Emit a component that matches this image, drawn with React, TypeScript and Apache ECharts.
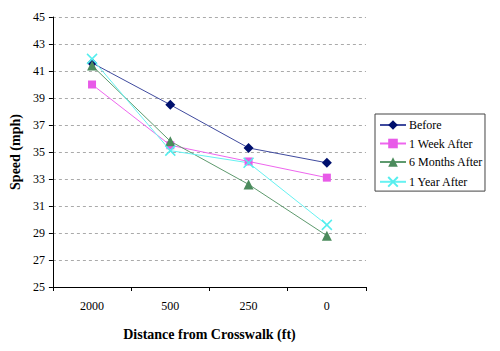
import React, { useEffect, useRef } from "react";
import * as echarts from "echarts";

const categories = ["2000", "500", "250", "0"];
const before = [41.6, 38.5, 35.3, 34.2];
const oneWeek = [40.0, 35.5, 34.3, 33.1];
const sixMonths = [41.4, 35.8, 32.6, 28.8];
const oneYear = [41.9, 35.1, 34.2, 29.6];

const FONT = "'Liberation Serif', 'Times New Roman', serif";

export default function App() {
  const ref = useRef<HTMLDivElement>(null);
  useEffect(() => {
    const chart = echarts.init(ref.current!, null, { renderer: "svg" });
    const mk = (name: string, data: number[], line: string, mark: string, symbol: string, size: number) => ({
      name,
      type: "line",
      data,
      symbol,
      symbolSize: size,
      lineStyle: { color: line, width: 1 },
      itemStyle: { color: mark, borderColor: mark, borderWidth: 0 },
    });
    chart.setOption({
      animation: false,
      grid: { left: 45, right: 134, top: 17, bottom: 64 },
      xAxis: {
        type: "category",
        data: categories,
        boundaryGap: true,
        name: "Distance from Crosswalk (ft)",
        nameLocation: "middle",
        nameGap: 40,
        nameTextStyle: { fontFamily: FONT, fontWeight: "bold", fontSize: 14, color: "#000" },
        axisLine: { lineStyle: { color: "#000", width: 1 } },
        axisTick: { show: true, length: 4, lineStyle: { color: "#000" } },
        axisLabel: { fontFamily: FONT, fontSize: 12, color: "#000", margin: 13 },
      },
      yAxis: {
        type: "value",
        min: 25,
        max: 45,
        interval: 2,
        name: "Speed (mph)",
        nameLocation: "middle",
        nameGap: 28,
        nameTextStyle: { fontFamily: FONT, fontWeight: "bold", fontSize: 14, color: "#000" },
        axisLine: { show: true, lineStyle: { color: "#000", width: 1 } },
        axisTick: { show: true, length: 4, lineStyle: { color: "#000" } },
        axisLabel: { fontFamily: FONT, fontSize: 12, color: "#000", margin: 8 },
        splitLine: { show: true, lineStyle: { color: "#aaa", type: [3, 3], width: 1 } },
      },
      legend: {
        orient: "vertical",
        left: 375,
        top: 114,
        padding: [5, 2, 2, 4],
        itemGap: 6.5,
        itemWidth: 26,
        itemHeight: 12,
        borderColor: "#444",
        borderWidth: 1,
        textStyle: { fontFamily: FONT, fontSize: 12, color: "#000", padding: [0, 0, 0, -2] },
        data: ["Before", "1 Week After", "6 Months After", "1 Year After"],
      },
      series: [
        mk("Before", before, "#3f4a9e", "#00106e", "diamond", 10),
        mk("1 Week After", oneWeek, "#ee66ee", "#e85ae8", "rect", 8),
        mk("6 Months After", sixMonths, "#5e9a6e", "#4b8b5c", "triangle", 10),
        {
          ...mk("1 Year After", oneYear, "#66f2f2", "#55eeee", "path://M0,0L10,10M10,0L0,10", 10),
          itemStyle: { color: "none", borderColor: "#55eeee", borderWidth: 1.5 },
        },
      ],
    });
    return () => chart.dispose();
  }, []);
  return <div ref={ref} style={{ width: 500, height: 351, margin: -8 }} />;
}
